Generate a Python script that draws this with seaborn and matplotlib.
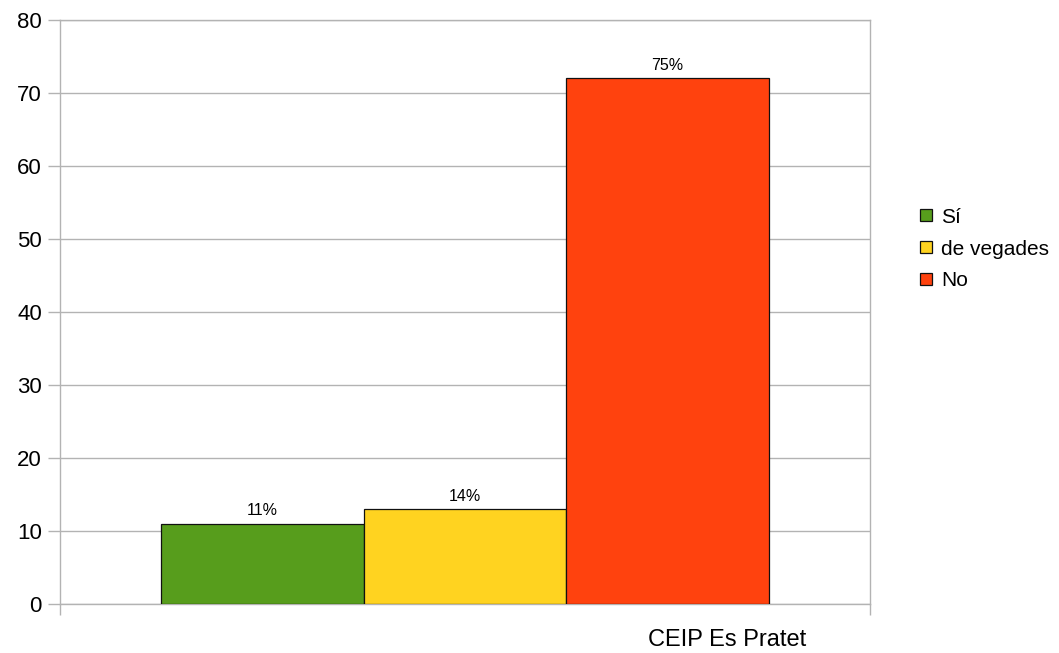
import pandas as pd
import matplotlib.pyplot as plt
import seaborn as sns

# Data
group = 'CEIP Es Pratet'
categories = ['Sí', 'de vegades', 'No']
values = [11, 13, 72]
pct_labels = ['11%', '14%', '75%']
colors = ['#579D1C', '#FFD320', '#FF420E']

df = pd.DataFrame({'grup': [group] * len(categories), 'resposta': categories, 'valor': values})

sns.set_style('white')
plt.rcParams['font.family'] = ['Liberation Sans', 'DejaVu Sans']
plt.rcParams['text.color'] = 'black'
plt.rcParams['xtick.color'] = 'black'
plt.rcParams['ytick.color'] = 'black'

fig = plt.figure(figsize=(10.59, 6.53), dpi=100)
ax = fig.add_axes([60 / 1059, 49 / 653, 810 / 1059, 584 / 653])

sns.barplot(data=df, x='grup', y='valor', hue='resposta', hue_order=categories,
            palette=colors, width=0.75, edgecolor='#111111', linewidth=0.9,
            saturation=1, ax=ax, zorder=3)

for cont, lab in zip(ax.containers, pct_labels):
    ax.bar_label(cont, labels=[lab], padding=4, fontsize=11.5, color='black')

grid_col = '#b3b3b3'
ax.set_ylim(0, 80)
ax.set_xlim(-0.5, 0.5)
ax.set_yticks(range(0, 81, 10))
ax.yaxis.grid(True, color=grid_col, linewidth=1, zorder=0)
ax.tick_params(axis='y', left=True, length=9, width=1, color=grid_col,
               labelcolor='black', labelsize=16, pad=4)
ax.set_xticks([-0.5, 0.5])
ax.set_xticklabels(['', ''])
ax.tick_params(axis='x', bottom=True, length=8, width=1, color=grid_col)
for sp in ax.spines.values():
    sp.set_color(grid_col)
    sp.set_linewidth(1)
ax.set_xlabel('')
ax.set_ylabel('')

fig.text(727 / 1059, 1 - 640 / 653, group, ha='center', va='center', fontsize=17)

leg = ax.legend(loc='center left', bbox_to_anchor=(912 / 1059, 1 - 249 / 653),
                bbox_transform=fig.transFigure, frameon=False, fontsize=15,
                handlelength=0.55, handleheight=0.55, handletextpad=0.45,
                labelspacing=0.62, borderaxespad=0)

plt.savefig('out.png', dpi=100)
plt.close()
